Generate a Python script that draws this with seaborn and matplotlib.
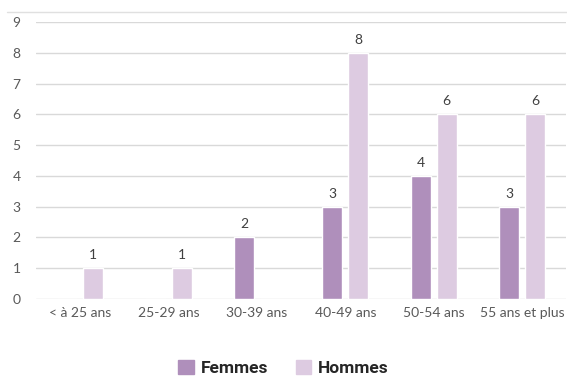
import matplotlib
matplotlib.use("Agg")
import matplotlib.pyplot as plt
import seaborn as sns
import pandas as pd

# Data
categories = ["< à 25 ans", "25-29 ans", "30-39 ans", "40-49 ans", "50-54 ans", "55 ans et plus"]
femmes = [0, 0, 2, 3, 4, 3]
hommes = [1, 1, 0, 8, 6, 6]
series = ["Femmes", "Hommes"]
colors = ["#AF8FBB", "#DDCBE1"]

df = pd.DataFrame({
    "age": categories * 2,
    "sexe": [series[0]] * len(categories) + [series[1]] * len(categories),
    "n": femmes + hommes,
})

sns.set_style("white")
plt.rcParams["font.family"] = ["Lato", "DejaVu Sans"]

fig = plt.figure(figsize=(5.67, 3.76), dpi=100)
ax = fig.add_axes([0.0635, 0.205, 0.935, 0.7365])

sns.barplot(data=df, x="age", y="n", hue="sexe", order=categories,
            hue_order=series, palette=colors, width=0.59, gap=0.23,
            saturation=1, ax=ax, legend=False)

# value labels, skip empty bars
for cont in ax.containers:
    labels = [f"{int(b.get_height())}" if b.get_height() > 0 else "" for b in cont]
    ax.bar_label(cont, labels=labels, padding=5, fontsize=10, color="#404040")

ax.set_ylim(0, 9)
ax.set_xlim(-0.5, 5.5)
ax.set_yticks(range(10))
ax.yaxis.grid(True, color="#D9D9D9", linewidth=1)
ax.set_axisbelow(True)
for s in ax.spines.values():
    s.set_visible(False)
ax.set_xlabel("")
ax.set_ylabel("")
ax.tick_params(axis="both", length=0, labelsize=10, labelcolor="#595959")
ax.tick_params(axis="y", pad=11)
ax.tick_params(axis="x", pad=6)

# faint top border line
fig.add_artist(plt.Line2D([0.012, 1.0], [0.968, 0.968], color="#E0E0E0", linewidth=1))

handles = [plt.Rectangle((0, 0), 1, 1, color=c) for c in colors]
fig.legend(handles, series, loc="center", bbox_to_anchor=(0.5, 0.022),
           ncol=2, frameon=False, handlelength=0.9, handleheight=0.9,
           handletextpad=0.4, columnspacing=1.6,
           prop={"family": "Roboto", "weight": "bold", "size": 12.5, "stretch": "condensed"},
           labelcolor="#262626")

fig.savefig("out.png", dpi=100)
